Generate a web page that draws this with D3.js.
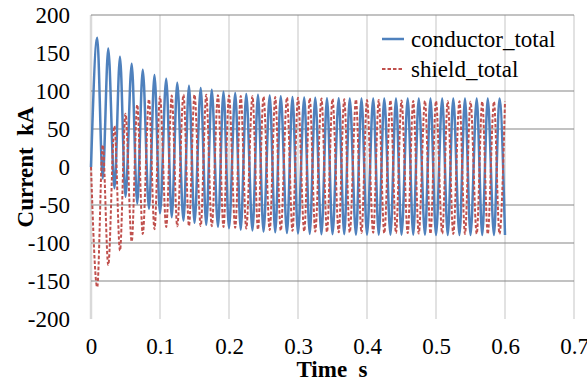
<!DOCTYPE html>
<html>
<head>
<meta charset="utf-8">
<script src="https://d3js.org/d3.v7.min.js"></script>
<style>
  html, body { margin: 0; padding: 0; background: #ffffff; }
  svg { display: block; }
  text { font-family: "Liberation Serif", "Times New Roman", Times, serif; fill: #000; }
</style>
</head>
<body>
<svg id="chart" width="587" height="382" font-family="Liberation Serif, Times New Roman, serif"></svg>
<script>
// ---- Data (extrema of the waveforms, 60 Hz) ----
const seriesNames = ["conductor_total", "shield_total"];
const xTicks = [0, 0.1, 0.2, 0.3, 0.4, 0.5, 0.6, 0.7];
const yTicks = [-200, -150, -100, -50, 0, 50, 100, 150, 200];
const yGridValues = [200, 100, 50, -50, -100, -150];

// times of conductor maxima (shield minima)
const peakTimes = [0.009, 0.025, 0.042, 0.059, 0.075, 0.092, 0.109, 0.125, 0.142, 0.159,
  0.175, 0.192, 0.209, 0.225, 0.242, 0.259, 0.275, 0.292, 0.309, 0.325,
  0.342, 0.359, 0.375, 0.392, 0.409, 0.425, 0.442, 0.459, 0.475, 0.492,
  0.509, 0.525, 0.542, 0.559, 0.575, 0.592];
// times of conductor minima (shield maxima)
const troughTimes = [0.017, 0.034, 0.050, 0.067, 0.084, 0.100, 0.117, 0.134, 0.150, 0.167,
  0.184, 0.200, 0.217, 0.234, 0.250, 0.267, 0.284, 0.300, 0.317, 0.334,
  0.350, 0.367, 0.384, 0.400, 0.417, 0.434, 0.450, 0.467, 0.484, 0.500,
  0.517, 0.534, 0.550, 0.567, 0.584, 0.600];

const conductorPeaks = [170, 156, 145, 136, 128, 121, 116, 111, 107, 104,
  101.5, 99, 97.5, 96, 95, 94, 93, 92, 91.5, 91,
  90.5, 90.5, 90, 90, 90, 90, 90, 90, 90, 90,
  90, 90, 90, 90, 90, 90];
const conductorTroughs = [-15, -28, -39, -48, -55, -61, -66, -70.5, -73.5, -76,
  -78.5, -80.5, -82.5, -83.5, -85, -86, -87, -87.5, -88, -88.5,
  -88.5, -88.5, -89, -89, -89, -89, -89, -89, -89, -89.5,
  -89.5, -89.5, -89.5, -89.5, -89.5, -89.5];

const shieldTroughs = [-158, -129, -110, -98, -88, -82, -79, -78, -77.5, -77.5,
  -78, -79, -80, -81, -82, -83, -83.5, -84, -84.5, -85,
  -85.5, -86, -86, -86.5, -86.5, -87, -87, -87, -87.5, -87.5,
  -87.5, -88, -88, -88, -88, -88];
const shieldPeaks = [29, 54, 70, 82, 89, 92.5, 94, 95, 95, 95,
  94.5, 94, 93.5, 93, 92.5, 92, 91.5, 91, 90.5, 90,
  89.5, 89, 88.5, 88, 88, 87.5, 87.5, 87, 87, 86.5,
  86.5, 86.5, 86, 86, 86, 86];

// ---- Build series ----
const conductor = [[0, 0]];
const shield = [[0, 0]];
peakTimes.forEach((t, k) => {
  conductor.push([t, conductorPeaks[k]]);
  conductor.push([troughTimes[k], conductorTroughs[k]]);
  shield.push([t, shieldTroughs[k]]);
  shield.push([troughTimes[k], shieldPeaks[k]]);
});

// ---- Chart ----
const FONT = '"Liberation Serif", "Times New Roman", Times, serif';
const svg = d3.select("#chart");
const x = d3.scaleLinear().domain([0, 0.7]).range([91, 574]);
const y = d3.scaleLinear().domain([-200, 200]).range([319, 15]);

// vertical gridlines (light)
svg.append("g").selectAll("line").data(xTicks).join("line")
  .attr("x1", d => x(d)).attr("x2", d => x(d))
  .attr("y1", y(200)).attr("y2", y(-200))
  .attr("stroke", "#d9d9d9")
  .attr("stroke-width", d => d === 0 ? 2.5 : 1.5);

// horizontal gridlines (darker)
svg.append("g").selectAll("line").data(yGridValues).join("line")
  .attr("x1", x(0)).attr("x2", x(0.7))
  .attr("y1", d => y(d)).attr("y2", d => y(d))
  .attr("stroke", "#868686")
  .attr("stroke-width", 1.2);

// axes labels via d3 axes (no domain/ticks lines)
const yAxis = svg.append("g")
  .attr("transform", `translate(${x(0) - 21},0)`)
  .call(d3.axisLeft(y).tickValues(yTicks).tickSize(0).tickPadding(0).tickFormat(d => String(d)));
yAxis.attr("font-family", FONT).attr("font-size", 23);
yAxis.select(".domain").remove();
yAxis.selectAll("text")
  .style("font-family", FONT)
  .style("font-size", "23px").attr("fill", "#000").attr("dy", "0.34em");

const xAxis = svg.append("g")
  .attr("transform", `translate(0,${y(-200) + 35})`)
  .call(d3.axisBottom(x).tickValues(xTicks).tickSize(0).tickPadding(0).tickFormat(d => d === 0 ? "0" : d3.format(".1f")(d)));
xAxis.attr("font-family", FONT).attr("font-size", 23);
xAxis.select(".domain").remove();
xAxis.selectAll("text")
  .style("font-family", FONT)
  .style("font-size", "23px").attr("fill", "#000").attr("dy", "0");

// lines
const line = d3.line().x(d => x(d[0])).y(d => y(d[1])).curve(d3.curveMonotoneX);

svg.append("path").datum(conductor)
  .attr("d", line).attr("fill", "none")
  .attr("stroke", "#4f81bd").attr("stroke-width", 2.5)
  .attr("stroke-linejoin", "round");

svg.append("path").datum(shield)
  .attr("d", line).attr("fill", "none")
  .attr("stroke", "#c0504d").attr("stroke-width", 2)
  .attr("stroke-dasharray", "3.5,2");

// axis titles
svg.append("text")
  .attr("transform", `translate(33,${y(0)}) rotate(-90)`)
  .attr("text-anchor", "middle")
  .style("font-family", FONT)
  .style("font-size", "23px").style("font-weight", "bold")
  .text("Current\u00a0\u00a0kA");

svg.append("text")
  .attr("x", 332).attr("y", 377)
  .attr("text-anchor", "middle")
  .style("font-family", FONT)
  .style("font-size", "23px").style("font-weight", "bold")
  .text("Time\u00a0\u00a0s");

// legend
const legend = svg.append("g");
const legendItems = [
  { name: seriesNames[0], color: "#4f81bd", dash: null, w: 2.5, ly: 39, ty: 47 },
  { name: seriesNames[1], color: "#c0504d", dash: "3.5,2", w: 2, ly: 69, ty: 77 }
];
legendItems.forEach(it => {
  legend.append("line")
    .attr("x1", 382).attr("x2", 404).attr("y1", it.ly).attr("y2", it.ly)
    .attr("stroke", it.color).attr("stroke-width", it.w)
    .attr("stroke-dasharray", it.dash);
  legend.append("text")
    .attr("x", 411).attr("y", it.ty)
    .style("font-family", FONT)
    .style("font-size", "23px")
    .text(it.name);
});
</script>
</body>
</html>
